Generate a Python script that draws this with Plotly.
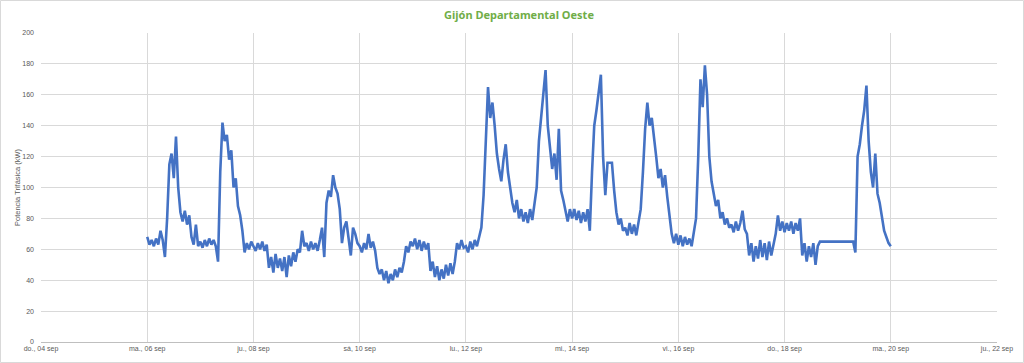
import pandas as pd
import plotly.graph_objects as go

# Hourly readings of three-phase power (kW)
sep06 = [68, 63, 66, 62, 67, 63, 72, 66, 55, 80, 115, 122, 106, 133, 100, 84, 78, 85, 76, 82, 68, 63, 76, 62]
sep07 = [65, 61, 66, 62, 67, 63, 66, 62, 52, 110, 142, 130, 134, 118, 124, 100, 106, 88, 82, 72, 58, 64, 60, 65]
sep08 = [62, 59, 64, 60, 65, 59, 63, 48, 55, 45, 57, 48, 54, 46, 55, 42, 56, 49, 58, 52, 60, 58, 72, 62]
sep09 = [64, 59, 65, 60, 64, 59, 66, 74, 55, 90, 98, 94, 108, 100, 96, 86, 64, 74, 78, 66, 56, 74, 70, 64]
sep10 = [62, 58, 64, 60, 70, 61, 65, 59, 48, 44, 47, 40, 46, 38, 44, 40, 47, 42, 48, 45, 52, 62, 58, 65]
sep11 = [62, 67, 60, 66, 59, 65, 60, 64, 46, 52, 42, 49, 40, 47, 41, 50, 43, 51, 44, 52, 64, 60, 66, 61]
sep12 = [62, 58, 65, 60, 66, 62, 68, 74, 95, 130, 165, 145, 155, 140, 122, 112, 104, 118, 128, 110, 100, 90, 84, 92]
sep13 = [80, 86, 78, 84, 77, 86, 79, 88, 100, 130, 145, 160, 176, 140, 125, 112, 122, 105, 138, 98, 92, 85, 78, 86]
sep14 = [80, 86, 79, 85, 77, 84, 78, 86, 72, 110, 140, 150, 160, 173, 120, 95, 116, 116, 116, 98, 84, 76, 80, 72]
sep15 = [74, 69, 77, 70, 76, 69, 78, 86, 110, 138, 155, 140, 145, 130, 120, 106, 112, 100, 108, 94, 80, 70, 64, 70]
sep16 = [63, 69, 62, 68, 63, 67, 62, 70, 80, 120, 170, 152, 179, 160, 120, 104, 96, 88, 92, 80, 84, 76, 80, 74]
sep17 = [76, 71, 78, 72, 77, 85, 73, 70, 56, 64, 52, 62, 54, 66, 55, 64, 53, 65, 56, 63, 70, 82, 72, 78]
sep18 = [71, 77, 72, 78, 70, 77, 72, 80, 56, 64, 52, 62, 55, 64, 50, 62, 65,
         None, None, None, None, None, None, None]
sep19 = [None, None, None, None, None, None, None, 65, 58, 120, 128, 140, 150, 166, 130, 110, 100, 122, 96, 90, 80, 72, 68, 64]
sep20 = [62]

values = (sep06 + sep07 + sep08 + sep09 + sep10 + sep11 + sep12 + sep13 +
          sep14 + sep15 + sep16 + sep17 + sep18 + sep19 + sep20)
times = pd.date_range("2023-09-06 00:00", periods=len(values), freq="h")

tick_dates = ["2023-09-04", "2023-09-06", "2023-09-08", "2023-09-10", "2023-09-12",
              "2023-09-14", "2023-09-16", "2023-09-18", "2023-09-20", "2023-09-22"]
tick_labels = ["do., 04 sep", "ma., 06 sep", "ju., 08 sep", "sá, 10 sep", "lu., 12 sep",
               "mi., 14 sep", "vi., 16 sep", "do., 18 sep", "ma., 20 sep", "ju., 22 sep"]
y_ticks = [0, 20, 40, 60, 80, 100, 120, 140, 160, 180, 200]

title_text = "Gijón Departamental Oeste"
y_title = "Potencia Trifásica (kW)"

fig = go.Figure()
fig.add_trace(go.Scatter(
    x=times, y=values, mode="lines", connectgaps=True,
    line=dict(color="#4472C4", width=2.6), showlegend=False,
))

L, R, T, B = 41, 27, 33, 21
W, H = 1024, 363
pw, ph = W - L - R, H - T - B

fig.update_layout(
    width=W, height=H,
    margin=dict(l=L, r=R, t=T, b=B, pad=0, autoexpand=False),
    paper_bgcolor="white", plot_bgcolor="white",
    font=dict(family="Liberation Sans, Arial, sans-serif", size=7, color="#595959"),
    title=dict(text="<b>" + title_text + "</b>", x=0.5, xref="paper", xanchor="center",
               y=1 - 15 / H, yanchor="middle", yref="container",
               font=dict(family="Noto Sans, sans-serif", size=11, color="#70AD47")),
    xaxis=dict(
        type="date", range=["2023-09-04", "2023-09-22"], automargin=False,
        tickvals=tick_dates, ticktext=tick_labels,
        showgrid=True, gridcolor="#D9D9D9", gridwidth=1,
        showline=True, linecolor="#BFBFBF", linewidth=1,
        ticks="", zeroline=False,
        tickfont=dict(size=7, color="#595959"),
    ),
    yaxis=dict(
        range=[0, 200], tickvals=y_ticks, automargin=False,
        showgrid=True, gridcolor="#D9D9D9", gridwidth=1,
        zeroline=False, showline=False, ticks="",
        ticklabelstandoff=6,
        tickfont=dict(size=7, color="#595959"),
        title=dict(text=y_title, font=dict(size=7.5, color="#595959"), standoff=0),
    ),
    shapes=[dict(
        type="rect", xref="paper", yref="paper",
        x0=(0.5 - L) / pw, x1=(W - 0.5 - L) / pw,
        y0=-(B - 0.5) / ph, y1=(ph + T - 0.5) / ph,
        line=dict(color="#D9D9D9", width=1), fillcolor="rgba(0,0,0,0)", layer="below",
    )],
)

fig.write_html(
    "out.html",
    config={"displayModeBar": False},
    post_script="document.body.style.margin='0';document.body.style.overflow='hidden';",
)
